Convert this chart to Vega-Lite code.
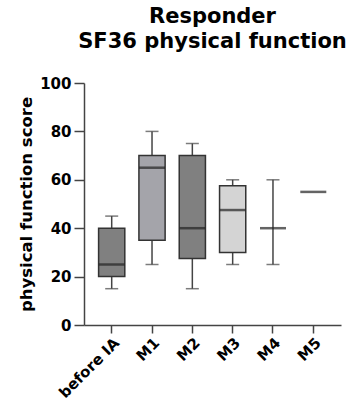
{
  "$schema": "https://vega.github.io/schema/vega-lite/v6.json",
  "width": 257,
  "height": 242,
  "autosize": "none",
  "padding": {"left": 84, "top": 83, "right": 5, "bottom": 84},
  "background": "white",
  "title": {
    "text": ["Responder", "SF36 physical function"],
    "font": "DejaVu Sans",
    "fontWeight": "bold",
    "fontSize": 21,
    "lineHeight": 25,
    "color": "black",
    "anchor": "middle",
    "offset": 24
  },
  "config": {
    "view": {"stroke": null},
    "axis": {
      "labelFont": "DejaVu Sans",
      "labelFontWeight": "bold",
      "labelFontSize": 15,
      "labelColor": "black",
      "titleFont": "DejaVu Sans",
      "titleFontWeight": "bold",
      "titleColor": "black",
      "domainColor": "#444",
      "domainWidth": 1.5,
      "tickColor": "#444",
      "tickWidth": 1.5,
      "grid": false
    }
  },
  "data": {
    "values": [
      {"group": "before IA", "min": 15, "q1": 20, "median": 25, "q3": 40, "max": 45},
      {"group": "M1", "min": 25, "q1": 35, "median": 65, "q3": 70, "max": 80},
      {"group": "M2", "min": 15, "q1": 27.5, "median": 40, "q3": 70, "max": 75},
      {"group": "M3", "min": 25, "q1": 30, "median": 47.5, "q3": 57.5, "max": 60},
      {"group": "M4", "min": 25, "q1": null, "median": 40, "q3": null, "max": 60},
      {"group": "M5", "min": null, "q1": null, "median": 55, "q3": null, "max": null}
    ]
  },
  "encoding": {
    "x": {
      "field": "group",
      "type": "nominal",
      "sort": null,
      "scale": {"paddingInner": 0.35, "paddingOuter": 0.362},
      "axis": {"title": null, "labelAngle": -45, "tickSize": 8, "labelPadding": 2}
    }
  },
  "layer": [
    {
      "mark": {"type": "rule", "color": "#444", "strokeWidth": 1.5},
      "encoding": {
        "y": {
          "field": "min",
          "type": "quantitative",
          "scale": {"domain": [0, 100], "nice": false},
          "axis": {
            "title": "physical function score",
            "titleFontSize": 16.5,
            "titlePadding": 5,
            "values": [0, 20, 40, 60, 80, 100],
            "tickSize": 10,
            "labelPadding": 3
          }
        },
        "y2": {"field": "max"}
      }
    },
    {
      "mark": {"type": "tick", "color": "#444", "size": 13, "thickness": 1.5},
      "encoding": {"y": {"field": "min", "type": "quantitative"}}
    },
    {
      "mark": {"type": "tick", "color": "#444", "size": 13, "thickness": 1.5},
      "encoding": {"y": {"field": "max", "type": "quantitative"}}
    },
    {
      "mark": {"type": "bar", "stroke": "#333", "strokeWidth": 1.5},
      "encoding": {
        "y": {"field": "q1", "type": "quantitative"},
        "y2": {"field": "q3"},
        "color": {
          "field": "group",
          "type": "nominal",
          "scale": {
            "domain": ["before IA", "M1", "M2", "M3", "M4", "M5"],
            "range": ["#808080", "#a4a4aa", "#808080", "#d4d4d4", "#808080", "#808080"]
          },
          "legend": null
        }
      }
    },
    {
      "mark": {"type": "tick", "color": "#222", "size": 26, "thickness": 2.5},
      "encoding": {"y": {"field": "median", "type": "quantitative"}}
    }
  ]
}
